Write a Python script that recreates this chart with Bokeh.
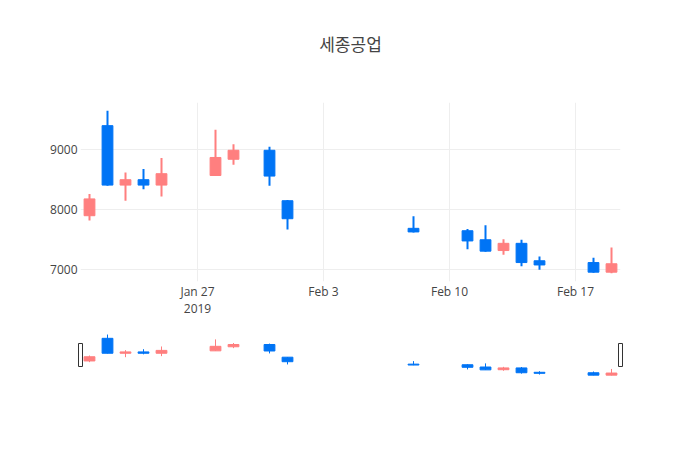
import pandas as pd
from bokeh.plotting import figure
from bokeh.layouts import column
from bokeh.models import Range1d, FixedTicker, ColumnDataSource
from bokeh.embed import file_html
from bokeh.resources import INLINE

title_text = "세종공업"
dates = ["2019-01-21", "2019-01-22", "2019-01-23", "2019-01-24", "2019-01-25",
         "2019-01-28", "2019-01-29", "2019-01-31", "2019-02-01", "2019-02-08",
         "2019-02-11", "2019-02-12", "2019-02-13", "2019-02-14", "2019-02-15",
         "2019-02-18", "2019-02-19"]
open_ = [7900, 9400, 8410, 8500, 8410, 8570, 8840, 8990, 8150, 7690, 7650, 7500, 7320, 7440, 7150, 7120, 6960]
high = [8260, 9650, 8620, 8680, 8860, 9330, 9090, 9050, 8160, 7890, 7680, 7740, 7510, 7500, 7220, 7200, 7370]
low = [7820, 8400, 8150, 8340, 8220, 8560, 8750, 8400, 7670, 7620, 7340, 7300, 7250, 7060, 7000, 6950, 6940]
close = [8180, 8410, 8500, 8410, 8600, 8870, 8990, 8560, 7850, 7630, 7480, 7310, 7440, 7120, 7080, 6960, 7100]

x_tick_dates = ["2019-01-27", "2019-02-03", "2019-02-10", "2019-02-17"]
x_tick_labels = ["Jan 27\n2019", "Feb 3", "Feb 10", "Feb 17"]
y_ticks = [7000, 8000, 9000]

INC = "#FF7F7F"
DEC = "#0074F5"
DAY_MS = 24 * 3600 * 1000

x = pd.to_datetime(dates)
src = ColumnDataSource(dict(
    x=x,
    top=[max(o, c) for o, c in zip(open_, close)],
    bottom=[min(o, c) for o, c in zip(open_, close)],
    high=high, low=low,
    color=[INC if c > o else DEC for o, c in zip(open_, close)],
))

x_start = x.min() - pd.Timedelta(hours=12)
x_end = x.max() + pd.Timedelta(hours=12)
span = max(high) - min(low)
y_lo, y_hi = min(low) - 0.05 * span, max(high) + 0.05 * span

# header holding the chart title
p0 = figure(width=700, height=61, x_range=Range1d(0, 1), y_range=Range1d(0, 1),
            x_axis_location=None, y_axis_location=None,
            output_backend="svg", toolbar_location=None,
            min_border_left=80, min_border_right=80, min_border_top=60, min_border_bottom=0)
p0.frame_align = False
p0.outline_line_color = None
p0.grid.visible = False
p0.title.text = title_text
p0.title.align = "center"
p0.title.text_font = "Noto Sans CJK KR"
p0.title.text_font_size = "17px"
p0.title.text_font_style = "normal"
p0.title.text_color = "#444444"
p0.title.standoff = 10

p = figure(width=700, height=271, x_axis_type="datetime",
           x_range=Range1d(x_start, x_end), y_range=Range1d(y_lo, y_hi),
           output_backend="svg", toolbar_location=None,
           min_border_left=80, min_border_right=80, min_border_top=41, min_border_bottom=51)
p.frame_align = False
p.outline_line_color = None
p.background_fill_color = "white"
p.border_fill_color = "white"

p.segment(x0="x", x1="x", y0="low", y1="high", source=src, line_color="color", line_width=2)
p.vbar(x="x", top="top", bottom="bottom", width=0.6 * DAY_MS, source=src,
       fill_color="color", line_color="color", line_width=1)

tick_ms = [pd.Timestamp(d).value // 10**6 for d in x_tick_dates]
p.xaxis.ticker = FixedTicker(ticks=tick_ms)
p.xaxis.major_label_overrides = {t: l for t, l in zip(tick_ms, x_tick_labels)}
p.yaxis.ticker = FixedTicker(ticks=y_ticks)
for ax in (p.xaxis, p.yaxis):
    ax.axis_line_color = None
    ax.major_tick_line_color = None
    ax.minor_tick_line_color = None
    ax.major_tick_out = 0
    ax.major_tick_in = 0
    ax.major_label_text_font = "Open Sans"
    ax.major_label_text_font_size = "12px"
    ax.major_label_text_color = "#444444"
p.xaxis.major_label_text_line_height = 1.0
p.yaxis.major_label_standoff = 3
p.xaxis.major_label_standoff = 1
p.grid.grid_line_color = "#eeeeee"
p.grid.grid_line_width = 1

# range slider preview
ext = pd.Timedelta(hours=24 * 10 / 18)
p2 = figure(width=700, height=60, x_axis_type="datetime",
            x_range=Range1d(x_start - ext, x_end + ext), y_range=Range1d(y_lo, y_hi),
            x_axis_location=None, y_axis_location=None,
            output_backend="svg", toolbar_location=None,
            min_border_left=70, min_border_right=70, min_border_top=0, min_border_bottom=15)
p2.frame_align = False
p2.outline_line_color = None
p2.grid.visible = False
p2.segment(x0="x", x1="x", y0="low", y1="high", source=src, line_color="color", line_width=1)
p2.vbar(x="x", top="top", bottom="bottom", width=0.6 * DAY_MS, source=src,
        fill_color="color", line_color="color", line_width=1)
mid = (y_lo + y_hi) / 2
p2.rect(x=[x_start, x_end], y=[mid, mid], width=4, height=23,
        width_units="screen", height_units="screen",
        fill_color="white", line_color="#333333", line_width=1)

layout = column(p0, p, p2, spacing=0)
open("out.html", "w").write(file_html(layout, INLINE))
